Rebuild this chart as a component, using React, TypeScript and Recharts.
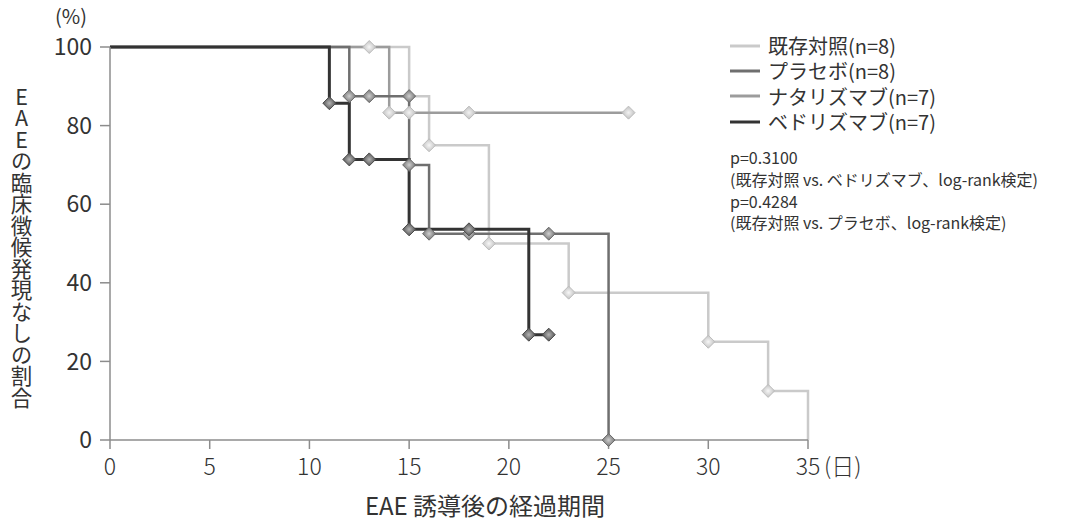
import { ComposedChart, Line, Scatter, XAxis, YAxis, Legend } from 'recharts';

const FONT = '"Noto Sans CJK JP", "Noto Sans", sans-serif';
const TEXT = '#333';

// 既存対照 (n=8)
const controlDays = [0, 15, 16, 19, 23, 30, 33, 35];
const controlRates = [100, 87.5, 75, 50, 37.5, 25, 12.5, 0];
const controlMarkDays = [13, 16, 19, 23, 30, 33];
const controlMarkRates = [100, 75, 50, 37.5, 25, 12.5];

// ナタリズマブ (n=7)
const natalizumabDays = [0, 14, 26];
const natalizumabRates = [100, 83.3, 83.3];
const natalizumabMarkDays = [14, 15, 18, 26];
const natalizumabMarkRates = [83.3, 83.3, 83.3, 83.3];

// プラセボ (n=8)
const placeboDays = [0, 12, 15, 16, 25];
const placeboRates = [100, 87.5, 70, 52.5, 0];
const placeboMarkDays = [12, 13, 15, 15, 16, 18, 22, 25];
const placeboMarkRates = [87.5, 87.5, 87.5, 70, 52.5, 52.5, 52.5, 0];

// ベドリズマブ (n=7)
const vedolizumabDays = [0, 11, 12, 15, 21, 22];
const vedolizumabRates = [100, 85.7, 71.4, 53.6, 26.8, 26.8];
const vedolizumabMarkDays = [11, 12, 13, 15, 18, 21, 22];
const vedolizumabMarkRates = [85.7, 71.4, 71.4, 53.6, 53.6, 26.8, 26.8];

const xTicks = [0, 5, 10, 15, 20, 25, 30, 35];
const yTicks = [0, 20, 40, 60, 80, 100];

const pValueLines = [
  'p=0.3100',
  '(既存対照 vs. ベドリズマブ、log-rank検定)',
  'p=0.4284',
  '(既存対照 vs. プラセボ、log-rank検定)',
];

const toPoints = (days: number[], rates: number[]) =>
  days.map((x, i) => ({ x, y: rates[i] }));

// drawing order: lightest first, darkest on top
const series = [
  {
    id: 'control',
    name: '既存対照(n=8)',
    color: '#cacaca',
    width: 2.5,
    steps: toPoints(controlDays, controlRates),
    marks: toPoints(controlMarkDays, controlMarkRates),
    edge: '#bdbdbd',
    center: '#f7f7f7',
  },
  {
    id: 'natalizumab',
    name: 'ナタリズマブ(n=7)',
    color: '#9c9c9c',
    width: 2.5,
    steps: toPoints(natalizumabDays, natalizumabRates),
    marks: toPoints(natalizumabMarkDays, natalizumabMarkRates),
    edge: '#bcbcbc',
    center: '#f2f2f2',
  },
  {
    id: 'placebo',
    name: 'プラセボ(n=8)',
    color: '#6f6f6f',
    width: 2.5,
    steps: toPoints(placeboDays, placeboRates),
    marks: toPoints(placeboMarkDays, placeboMarkRates),
    edge: '#6a6a6a',
    center: '#cfcfcf',
  },
  {
    id: 'vedolizumab',
    name: 'ベドリズマブ(n=7)',
    color: '#333333',
    width: 3,
    steps: toPoints(vedolizumabDays, vedolizumabRates),
    marks: toPoints(vedolizumabMarkDays, vedolizumabMarkRates),
    edge: '#4a4a4a',
    center: '#b5b5b5',
  },
];

// legend order differs from drawing order
const legendOrder = ['control', 'placebo', 'natalizumab', 'vedolizumab'];

const Diamond = (props: any) => {
  const { cx, cy, id, edge } = props;
  const r = 6.5;
  return (
    <polygon
      points={`${cx},${cy - r} ${cx + r},${cy} ${cx},${cy + r} ${cx - r},${cy}`}
      fill={`url(#mark-${id})`}
      stroke={edge}
      strokeWidth={1}
    />
  );
};

const DayTick = (props: any) => {
  const { x, y, payload } = props;
  const style = { fontFamily: FONT, fontSize: 23, fill: TEXT, fontWeight: 300 };
  return (
    <g>
      <text x={x} y={y} dy="0.71em" textAnchor="middle" style={style}>
        {payload.value}
      </text>
      {payload.value === 35 && (
        <text x={x + 16} y={y} dy="0.71em" textAnchor="start" style={style}>
          (日)
        </text>
      )}
    </g>
  );
};

const LegendBlock = () => (
  <div style={{ fontFamily: FONT, color: TEXT }}>
    {legendOrder.map((key) => {
      const s = series.find((d) => d.id === key)!;
      return (
        <div
          key={key}
          style={{ display: 'flex', alignItems: 'center', height: 25.3, lineHeight: '25px', fontSize: 20 }}
        >
          <svg width={40} height={6}>
            <line x1={2} y1={3} x2={32} y2={3} stroke={s.color} strokeWidth={3} />
          </svg>
          <span>{s.name}</span>
        </div>
      );
    })}
    <div style={{ marginTop: 13, marginLeft: 2, fontSize: 16, lineHeight: '21.7px' }}>
      {pValueLines.map((t) => (
        <div key={t} style={{ whiteSpace: 'nowrap' }}>{t}</div>
      ))}
    </div>
  </div>
);

export default function App() {
  return (
    <div style={{ position: 'relative', width: 1071, height: 522, background: '#fff' }}>
      <style>{'body { margin: 0; }'}</style>
      <div
        style={{
          position: 'absolute',
          left: 55,
          top: 4,
          lineHeight: '24px',
          fontFamily: FONT,
          fontSize: 20,
          color: TEXT,
        }}
      >
        (%)
      </div>
      <div
        style={{
          position: 'absolute',
          left: 9,
          top: 86,
          writingMode: 'vertical-rl',
          textOrientation: 'upright',
          fontFamily: FONT,
          fontSize: 21.5,
          lineHeight: '24px',
          color: TEXT,
        }}
      >
        EAEの臨床徴候発現なしの割合
      </div>
      <ComposedChart
        width={1071}
        height={522}
        margin={{ top: 47, right: 263, bottom: 0, left: 0 }}
      >
        <defs>
          {series.map((s) => (
            <radialGradient key={s.id} id={`mark-${s.id}`} cx="50%" cy="50%" r="55%">
              <stop offset="0%" stopColor={s.center} />
              <stop offset="100%" stopColor={s.edge} />
            </radialGradient>
          ))}
        </defs>
        <XAxis
          dataKey="x"
          type="number"
          domain={[0, 35]}
          ticks={xTicks}
          height={82}
          stroke="#8c8c8c"
          strokeWidth={1.5}
          tickSize={9}
          tickMargin={10}
          tick={<DayTick />}
          label={{
            value: 'EAE 誘導後の経過期間',
            position: 'insideBottom',
            offset: 7,
            dx: 26,
            style: { fontFamily: FONT, fontSize: 24, fill: TEXT },
          }}
        />
        <YAxis
          dataKey="y"
          type="number"
          domain={[0, 100]}
          ticks={yTicks}
          width={110}
          stroke="#8c8c8c"
          strokeWidth={1.5}
          tickSize={10}
          tickMargin={8}
          tick={{ fontFamily: FONT, fontSize: 23, fill: TEXT }}
        />
        {series.map((s) => (
          <Line
            key={`line-${s.id}`}
            data={s.steps}
            dataKey="y"
            type="stepAfter"
            stroke={s.color}
            strokeWidth={s.width}
            dot={false}
            activeDot={false}
            isAnimationActive={false}
            legendType="none"
          />
        ))}
        {series.map((s) => (
          <Scatter
            key={`mark-${s.id}`}
            data={s.marks}
            dataKey="y"
            shape={(p: any) => <Diamond {...p} id={s.id} edge={s.edge} />}
            isAnimationActive={false}
            legendType="none"
          />
        ))}
        <Legend
          layout="vertical"
          align="center"
          verticalAlign="middle"
          content={<LegendBlock />}
          wrapperStyle={{ left: 728, top: 33, width: 340, height: 240 }}
        />
      </ComposedChart>
    </div>
  );
}
